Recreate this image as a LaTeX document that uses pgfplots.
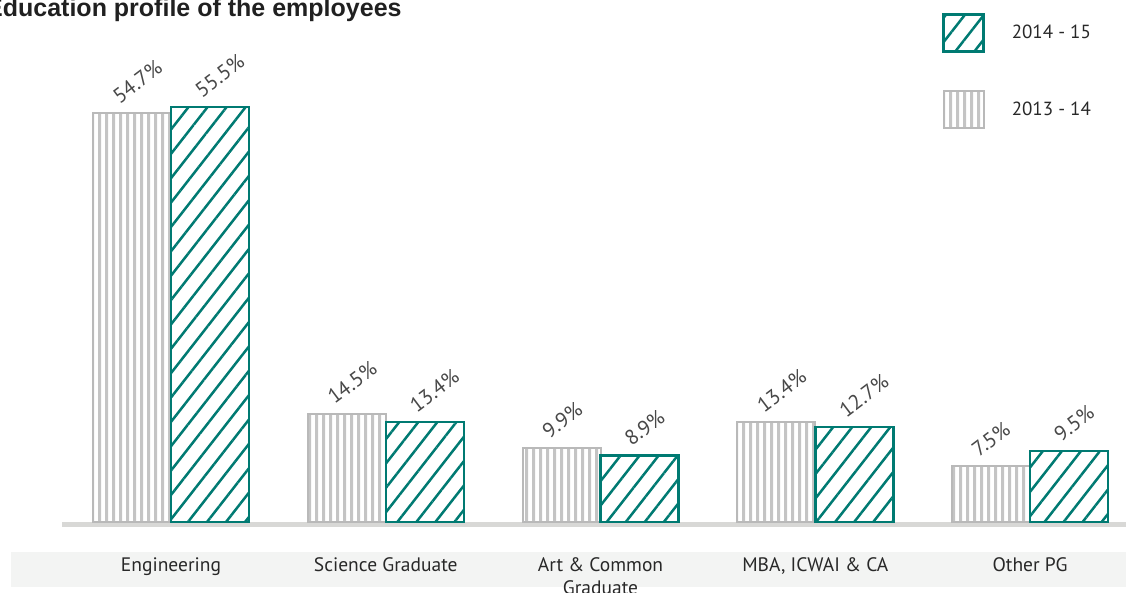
\documentclass[border=0pt]{standalone}
\usepackage{fontspec}
\setmainfont{PT Sans}
\newfontfamily\titlefont{Liberation Sans}
\usepackage{pgfplots}
\usepackage{pgfplotstable}
\pgfplotsset{compat=1.18}
\usetikzlibrary{patterns.meta}
\definecolor{teal1}{RGB}{0,122,114}
\definecolor{bargray}{RGB}{196,196,196}
\definecolor{bordergray}{RGB}{185,185,185}
\definecolor{axisgray}{RGB}{216,216,214}
\definecolor{bandgray}{RGB}{243,244,243}
\definecolor{txt}{RGB}{40,40,40}

\pgfdeclarepattern{
  name=vstripes,
  type=uncolored,
  bottom left={\pgfpoint{0pt}{0pt}},
  top right={\pgfpoint{6.5pt}{60pt}},
  tile size={\pgfpoint{6.5pt}{60pt}},
  code={\pgfpathrectangle{\pgfpoint{0pt}{0pt}}{\pgfpoint{3.3pt}{60pt}}\pgfusepath{fill}}
}

\pgfplotstableread{
x a b
0 54.7 55.5
1 14.5 13.4
2 9.9 8.9
3 13.4 12.7
4 7.5 9.5
}\data

\begin{document}
\begin{tikzpicture}[x=1pt,y=1pt]
\useasboundingbox (0,0) rectangle (1126,592);
\fill[bandgray] (11,5) rectangle (1126,40);
\draw[axisgray, line width=5pt] (62,67.5) -- (1126,67.5);
\node[anchor=base west, font=\titlefont\bfseries\fontsize{25}{29}\selectfont, text=txt!80!black, inner sep=0pt] at (-14,575) {Education profile of the employees};
\begin{axis}[
  at={(62pt,70pt)}, anchor=south west,
  scale only axis, width=1064pt, height=448.8pt,
  xmin=-0.5076, xmax=4.447, ymin=0, ymax=60,
  clip=false,
  axis line style={draw=none},
  major tick length=0pt,
  ytick=\empty,
  xtick={0,1,2,3,4},
  xticklabels={Engineering, Science Graduate, {Art \& Common\\Graduate}, {MBA, ICWAI \& CA}, Other PG},
  xticklabel style={font=\fontsize{19.5}{23}\selectfont, text=txt, align=center, anchor=north, inner sep=0pt, yshift=-35pt},
  /pgf/number format/assume math mode=true,
  nodes near coords={\pgfmathprintnumber[fixed,fixed zerofill,precision=1]{\pgfplotspointmeta}\%},
  every node near coord/.append style={font=\fontsize{21}{25}\selectfont, text=txt!85, anchor=base west, inner sep=0pt},
  reverse legend,
  legend style={at={(0.8271,1.1341)}, anchor=north west, draw=none, fill=none, font=\fontsize{19}{22}\selectfont, row sep=37pt, inner sep=0pt, nodes={inner sep=0pt, text=txt}, /tikz/every odd column/.append style={column sep=27pt}},
  legend cell align=left,
  legend image code/.code={\draw[#1,/tikz/.cd] (0pt,-18.5pt) rectangle (40pt,18.5pt);},
]
\addplot[ybar, bar width=78pt, bar shift=-39pt, draw=bordergray, line width=2pt, pattern=vstripes, pattern color=bargray,
  every node near coord/.append style={xshift=-52pt, yshift=8pt, rotate=37}] table[x=x,y=a]{\data};
\addplot[ybar, bar width=78pt, bar shift=39pt, draw=teal1, line width=2.5pt, pattern={Lines[angle=52,distance=15pt,line width=2.5pt]}, pattern color=teal1,
  every node near coord/.append style={xshift=30pt, yshift=8pt, rotate=37}] table[x=x,y=b]{\data};
\legend{2013 - 14, 2014 - 15}
\end{axis}
\end{tikzpicture}
\end{document}
